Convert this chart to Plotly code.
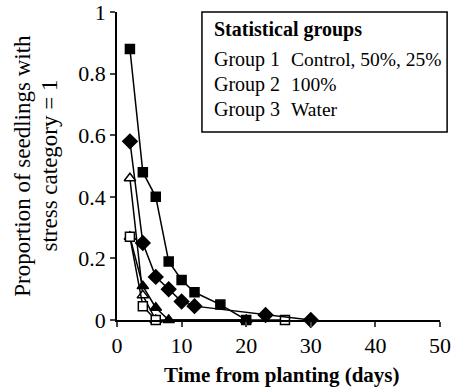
import plotly.graph_objects as go

# Series data (days, proportion)
sq_fill_x = [2, 4, 6, 8, 10, 12, 16, 20]
sq_fill_y = [0.88, 0.48, 0.40, 0.19, 0.13, 0.09, 0.05, 0.0]

dia_x = [2, 4, 6, 8, 10, 12, 23, 30]
dia_y = [0.58, 0.25, 0.14, 0.10, 0.06, 0.045, 0.016, 0.0]

tri_open_x = [2, 4, 6]
tri_open_y = [0.46, 0.08, 0.0]

tri_fill_x = [2, 4, 6, 8, 20]
tri_fill_y = [0.27, 0.11, 0.04, 0.0, 0.0]

sq_open_x = [2, 4, 6, 26]
sq_open_y = [0.27, 0.045, 0.0, 0.0]

x_ticks = [0, 10, 20, 30, 40, 50]
y_ticks = [0, 0.2, 0.4, 0.6, 0.8, 1]
y_tick_labels = ["0", "0.2", "0.4", "0.6", "0.8", "1"]

x_title = "Time from planting (days)"
y_title_lines = ["Proportion of seedlings with", "stress category = 1"]

legend_title = "Statistical groups"
legend_groups = ["Group 1", "Group 2", "Group 3"]
legend_members = ["Control, 50%, 25%", "100%", "Water"]

FONT = "Liberation Serif"

fig = go.Figure()

def add(x, y, symbol, size, fill):
    fig.add_trace(go.Scatter(
        x=x, y=y, mode="lines+markers",
        line=dict(color="black", width=1.5),
        marker=dict(symbol=symbol, size=size,
                    color="black" if fill else "white",
                    line=dict(color="black", width=1.5)),
        showlegend=False, cliponaxis=False))

add(tri_fill_x, tri_fill_y, "triangle-up", 10, True)
add(tri_open_x, tri_open_y, "triangle-up", 10, False)
add(sq_open_x, sq_open_y, "square", 9, False)
add(dia_x, dia_y, "diamond", 11, True)
add(sq_fill_x, sq_fill_y, "square", 9, True)

fig.update_layout(
    width=451, height=392,
    margin=dict(l=117, r=11, t=12, b=72),
    plot_bgcolor="white", paper_bgcolor="white",
    font=dict(family=FONT, size=22, color="black"),
    xaxis=dict(range=[0, 50], tickvals=x_ticks, ticks="outside", ticklen=5,
               tickwidth=1.5, showline=True, linecolor="black", linewidth=1.5,
               showgrid=False, zeroline=False, tickfont=dict(size=22),
               automargin=False, ticklabeloverflow="allow"),
    yaxis=dict(range=[0, 1], tickvals=y_ticks, ticktext=y_tick_labels,
               ticks="outside", ticklen=5, tickwidth=1.5, showline=True,
               linecolor="black", linewidth=1.5, showgrid=False, zeroline=False,
               tickfont=dict(size=22), automargin=False,
               ticklabeloverflow="allow"),
)

# axis titles
fig.add_annotation(text="<b>" + x_title + "</b>", xref="paper", yref="paper",
                   x=0.511, y=-0.179, showarrow=False,
                   font=dict(family=FONT, size=21, color="black"),
                   xanchor="center", yanchor="middle")
for txt, xp in zip(y_title_lines, [-0.295, -0.212]):
    fig.add_annotation(text=txt, xref="paper", yref="paper", x=xp, y=0.5,
                       showarrow=False, textangle=-90,
                       font=dict(family=FONT, size=23, color="black"),
                       xanchor="center", yanchor="middle")

# legend box
fig.add_shape(type="rect", xref="paper", yref="paper",
              x0=0.263, x1=1.022, y0=0.610, y1=1.0,
              line=dict(color="black", width=1.5), fillcolor="white", layer="above")
fig.add_annotation(text="<b>" + legend_title + "</b>", xref="paper", yref="paper",
                   x=0.294, y=0.942, showarrow=False, xanchor="left", yanchor="middle",
                   font=dict(family=FONT, size=20, color="black"))
rows_y = [0.847, 0.763, 0.682]
for g, m, yy in zip(legend_groups, legend_members, rows_y):
    fig.add_annotation(text=g, xref="paper", yref="paper", x=0.294, y=yy,
                       showarrow=False, xanchor="left", yanchor="middle",
                       font=dict(family=FONT, size=20, color="black"))
    fig.add_annotation(text=m, xref="paper", yref="paper", x=0.533, y=yy,
                       showarrow=False, xanchor="left", yanchor="middle",
                       font=dict(family=FONT, size=19.5, color="black"))

fig.write_html("out.html")
